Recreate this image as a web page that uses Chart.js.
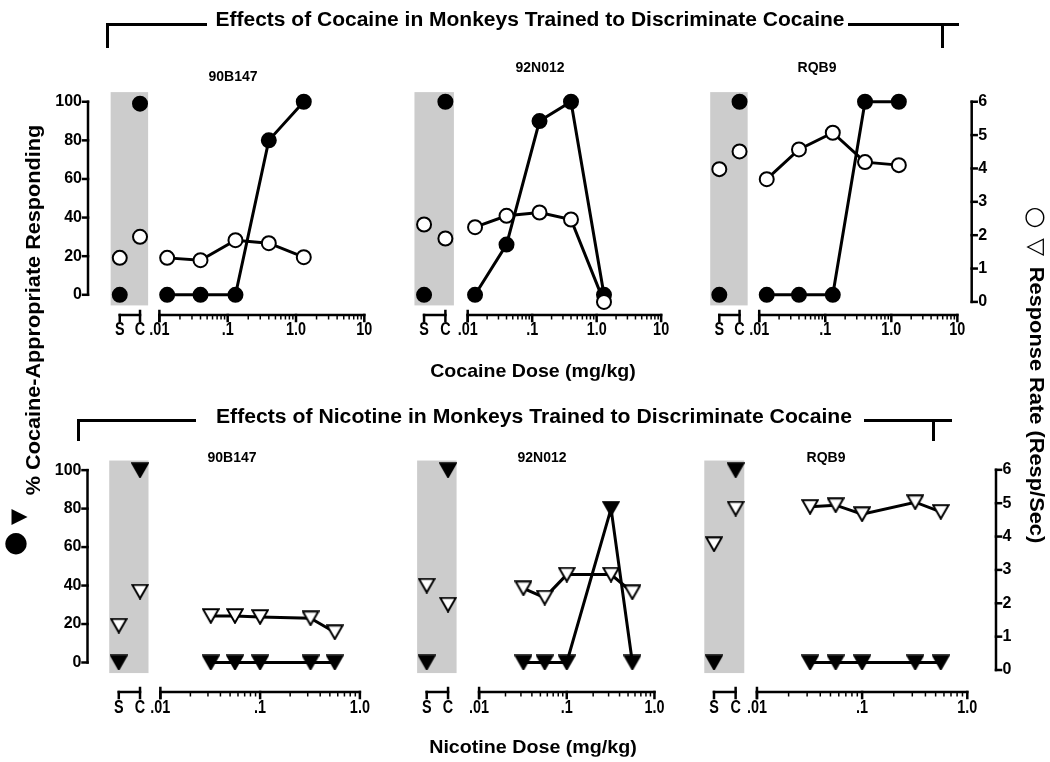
<!DOCTYPE html>
<html>
<head>
<meta charset="utf-8">
<script src="https://cdn.jsdelivr.net/npm/chart.js@4.4.1/dist/chart.umd.min.js"></script>
<style>
html,body{margin:0;padding:0;background:#fff;}
#wrap{position:relative;width:1050px;height:762px;overflow:hidden;font-family:"Liberation Sans",Arial,Helvetica,sans-serif;font-weight:bold;color:#000;}
#c{position:absolute;left:0;top:0;}
.t{position:absolute;white-space:nowrap;line-height:1;transform:translate(-50%,-50%);}
.rotL{transform:translate(-50%,-50%) rotate(-90deg);}
.rotR{transform:translate(-50%,-50%) rotate(90deg);}
.sym{font-family:"DejaVu Sans",sans-serif;font-weight:normal;}
.ln{position:absolute;background:#000;}
</style>
</head>
<body>
<div id="wrap">
<canvas id="c" width="1050" height="762"></canvas>

<div class="t" id="hTop" style="left:530px;top:19px;font-size:20px;">Effects of Cocaine in Monkeys Trained to Discriminate Cocaine</div>
<div class="t" id="hBot" style="left:534px;top:416px;font-size:20px;">Effects of Nicotine in Monkeys Trained to Discriminate Cocaine</div>
<div class="t" id="xTop" style="left:533px;top:370px;font-size:19px;">Cocaine Dose (mg/kg)</div>
<div class="t" id="xBot" style="left:533px;top:746px;font-size:19px;">Nicotine Dose (mg/kg)</div>

<div class="t rotL" id="yLeft" style="left:33px;top:310px;font-size:20px;">% Cocaine-Appropriate Responding</div>
<div class="t sym" style="left:16px;top:542px;font-size:28px;">●</div>
<div class="t sym rotL" style="left:18px;top:517px;font-size:21px;">▼</div>

<div class="t rotR" id="yRight" style="left:1037px;top:405px;font-size:20px;">Response Rate (Resp/Sec)</div>
<div class="t sym" style="left:1035px;top:215px;font-size:25px;">○</div>
<div class="t sym rotR" style="left:1036px;top:247px;font-size:23px;">▽</div>

<div class="ln" style="left:106px;top:23px;width:101px;height:3px;"></div>
<div class="ln" style="left:106px;top:23px;width:3px;height:25px;"></div>
<div class="ln" style="left:848px;top:23px;width:111px;height:3px;"></div>
<div class="ln" style="left:941px;top:23px;width:3px;height:25px;"></div>

<div class="ln" style="left:77px;top:419px;width:119px;height:3px;"></div>
<div class="ln" style="left:77px;top:419px;width:3px;height:22px;"></div>
<div class="ln" style="left:864px;top:419px;width:88px;height:3px;"></div>
<div class="ln" style="left:932px;top:419px;width:3px;height:22px;"></div>
</div>

<script>
// ================= DATA =================
const controlLabels = ['S', 'C'];
const subjects = ['90B147', '92N012', 'RQB9'];

const cocaineDoses = [0.013, 0.04, 0.13, 0.4, 1.3];
const nicotineDoses = [0.032, 0.056, 0.1, 0.32, 0.56];

// % cocaine-appropriate responding (filled symbols)
const cocainePct_90B147 = [0, 0, 0, 80, 100];
const cocainePct_92N012 = [0, 26, 90, 100, 0];
const cocainePct_RQB9   = [0, 0, 0, 100, 100];
const cocainePctCtrl_90B147 = [0, 99];
const cocainePctCtrl_92N012 = [0, 100];
const cocainePctCtrl_RQB9   = [0, 100];

// response rate, resp/sec (open symbols)
const cocaineRate_90B147 = [1.32, 1.25, 1.85, 1.76, 1.34];
const cocaineRate_92N012 = [2.24, 2.58, 2.68, 2.47, 0];
const cocaineRate_RQB9   = [3.68, 4.57, 5.07, 4.19, 4.10];
const cocaineRateCtrl_90B147 = [1.32, 1.95];
const cocaineRateCtrl_92N012 = [2.32, 1.90];
const cocaineRateCtrl_RQB9   = [3.98, 4.51];

const nicotinePct_90B147 = [0, 0, 0, 0, 0];
const nicotinePct_92N012 = [0, 0, 0, 80, 0];
const nicotinePct_RQB9   = [0, 0, 0, 0, 0];
const nicotinePctCtrl_90B147 = [0, 100];
const nicotinePctCtrl_92N012 = [0, 100];
const nicotinePctCtrl_RQB9   = [0, 100];

const nicotineRate_90B147 = [1.62, 1.62, 1.59, 1.55, 1.13];
const nicotineRate_92N012 = [2.45, 2.17, 2.86, 2.86, 2.33];
const nicotineRate_RQB9   = [4.89, 4.94, 4.67, 5.03, 4.74];
const nicotineRateCtrl_90B147 = [1.33, 2.35];
const nicotineRateCtrl_92N012 = [2.53, 1.96];
const nicotineRateCtrl_RQB9   = [3.77, 4.84];

// tick labels
const cocaineTickValues = [0.01, 0.1, 1, 10];
const cocaineTickLabels = ['.01', '.1', '1.0', '10'];
const nicotineTickValues = [0.01, 0.1, 1];
const nicotineTickLabels = ['.01', '.1', '1.0'];
const pctTickValues = [0, 20, 40, 60, 80, 100];
const rateTickValues = [0, 1, 2, 3, 4, 5, 6];

// ================= PANELS =================
const panels = [
  {subject: subjects[0], marker: 'circle', doses: cocaineDoses, pct: cocainePct_90B147, pctCtrl: cocainePctCtrl_90B147, rate: cocaineRate_90B147, rateCtrl: cocaineRateCtrl_90B147, ticks: cocaineTickValues, tickLabels: cocaineTickLabels},
  {subject: subjects[1], marker: 'circle', doses: cocaineDoses, pct: cocainePct_92N012, pctCtrl: cocainePctCtrl_92N012, rate: cocaineRate_92N012, rateCtrl: cocaineRateCtrl_92N012, ticks: cocaineTickValues, tickLabels: cocaineTickLabels},
  {subject: subjects[2], marker: 'circle', doses: cocaineDoses, pct: cocainePct_RQB9, pctCtrl: cocainePctCtrl_RQB9, rate: cocaineRate_RQB9, rateCtrl: cocaineRateCtrl_RQB9, ticks: cocaineTickValues, tickLabels: cocaineTickLabels},
  {subject: subjects[0], marker: 'triangle', doses: nicotineDoses, pct: nicotinePct_90B147, pctCtrl: nicotinePctCtrl_90B147, rate: nicotineRate_90B147, rateCtrl: nicotineRateCtrl_90B147, ticks: nicotineTickValues, tickLabels: nicotineTickLabels},
  {subject: subjects[1], marker: 'triangle', doses: nicotineDoses, pct: nicotinePct_92N012, pctCtrl: nicotinePctCtrl_92N012, rate: nicotineRate_92N012, rateCtrl: nicotineRateCtrl_92N012, ticks: nicotineTickValues, tickLabels: nicotineTickLabels},
  {subject: subjects[2], marker: 'triangle', doses: nicotineDoses, pct: nicotinePct_RQB9, pctCtrl: nicotinePctCtrl_RQB9, rate: nicotineRate_RQB9, rateCtrl: nicotineRateCtrl_RQB9, ticks: nicotineTickValues, tickLabels: nicotineTickLabels}
];

// ================= LAYOUT (pixels) =================
const W = 1050, H = 762;
// s,c: pixel of S and C; a: pixel of .01; d: pixels per decade
const layout = [
  {row: 0, s: 112.7, c: 133.3, a: 153.0, d: 69.5, axisY: 315, labelY: 330, titleX: 233, titleY: 77, leftAxisX: 88},
  {row: 0, s: 422.3, c: 444.0, a: 466.7, d: 65.6, axisY: 315, labelY: 330, titleX: 540, titleY: 68},
  {row: 0, s: 722.7, c: 743.3, a: 763.3, d: 67.2, axisY: 315, labelY: 330, titleX: 817, titleY: 68, rightAxisX: 971.7},
  {row: 1, s: 111.7, c: 133.3, a: 154.0, d: 101.5, axisY: 692, labelY: 708, titleX: 232, titleY: 458, leftAxisX: 87.5},
  {row: 1, s: 425.0, c: 446.7, a: 478.3, d: 89.2, axisY: 692, labelY: 708, titleX: 542, titleY: 458},
  {row: 1, s: 717.3, c: 739.3, a: 761.0, d: 107.0, axisY: 692, labelY: 708, titleX: 826, titleY: 458, rightAxisX: 996}
];
// y0: pixel of zero; k: pixels per unit
const rowLayout = [
  {y0L: 292.7, kL: 1.977, y0R: 300, kR: 34.17},
  {y0L: 669.3, kL: 1.970, y0R: 677, kR: 34.17}
];
const shadeX = [-0.45, 1.4];   // in S/C index units
const shadeY = [-5.5, 105];    // in % units

const FONT = '"Liberation Sans", Arial, Helvetica, sans-serif';

// ================= MARKERS =================
function triCanvas(fill) {
  const w = 18, h = 16;
  const cv = document.createElement('canvas');
  cv.width = w; cv.height = h;
  const g = cv.getContext('2d');
  g.beginPath();
  g.moveTo(1.2, 1.2); g.lineTo(w - 1.2, 1.2); g.lineTo(w / 2, h - 1.2); g.closePath();
  g.fillStyle = fill; g.fill();
  g.lineWidth = 2; g.strokeStyle = '#000'; g.lineJoin = 'miter'; g.stroke();
  return cv;
}
const triFilled = triCanvas('#000');
const triOpen = triCanvas('#fff');

// ================= SCALES =================
const scales = {};
panels.forEach((p, i) => {
  const L = layout[i];
  scales['x' + i] = {type: 'logarithmic', axis: 'x', position: 'bottom', display: false, bounds: 'data',
    min: Math.pow(10, -2 + (0 - L.a) / L.d), max: Math.pow(10, -2 + (W - L.a) / L.d)};
  scales['xc' + i] = {type: 'linear', axis: 'x', position: 'bottom', display: false, bounds: 'data',
    min: (0 - L.s) / (L.c - L.s), max: (W - L.s) / (L.c - L.s)};
});
rowLayout.forEach((r, k) => {
  scales['yL' + k] = {type: 'linear', axis: 'y', position: 'left', display: false, bounds: 'data',
    min: (r.y0L - H) / r.kL, max: r.y0L / r.kL};
  scales['yR' + k] = {type: 'linear', axis: 'y', position: 'right', display: false, bounds: 'data',
    min: (r.y0R - H) / r.kR, max: r.y0R / r.kR};
});

// ================= DATASETS =================
const datasets = [];
panels.forEach((p, i) => {
  const row = layout[i].row;
  const tri = p.marker === 'triangle';
  const common = {borderColor: '#000', borderWidth: 3, pointBorderColor: '#000', pointBorderWidth: 2,
    pointRadius: 7, pointHoverRadius: 7, clip: false, tension: 0};
  // open: response rate
  datasets.push(Object.assign({}, common, {
    label: p.subject + ' rate', order: 0, showLine: true,
    data: p.doses.map((d, j) => ({x: d, y: p.rate[j]})),
    xAxisID: 'x' + i, yAxisID: 'yR' + row,
    pointStyle: tri ? triOpen : 'circle', pointBackgroundColor: '#fff'}));
  datasets.push(Object.assign({}, common, {
    label: p.subject + ' rate S/C', order: 0, showLine: false,
    data: controlLabels.map((lab, j) => ({x: j, y: p.rateCtrl[j]})),
    xAxisID: 'xc' + i, yAxisID: 'yR' + row,
    pointStyle: tri ? triOpen : 'circle', pointBackgroundColor: '#fff'}));
  // filled: % drug-appropriate
  datasets.push(Object.assign({}, common, {
    label: p.subject + ' %', order: 1, showLine: true,
    data: p.doses.map((d, j) => ({x: d, y: p.pct[j]})),
    xAxisID: 'x' + i, yAxisID: 'yL' + row,
    pointStyle: tri ? triFilled : 'circle', pointBackgroundColor: '#000'}));
  datasets.push(Object.assign({}, common, {
    label: p.subject + ' % S/C', order: 1, showLine: false,
    data: controlLabels.map((lab, j) => ({x: j, y: p.pctCtrl[j]})),
    xAxisID: 'xc' + i, yAxisID: 'yL' + row,
    pointStyle: tri ? triFilled : 'circle', pointBackgroundColor: '#000'}));
});

// ================= AXES / DECOR PLUGIN =================
function seg(ctx, x1, y1, x2, y2) { ctx.beginPath(); ctx.moveTo(x1, y1); ctx.lineTo(x2, y2); ctx.stroke(); }
function narrowText(ctx, txt, x, y, sx) {
  ctx.save(); ctx.translate(x, y); ctx.scale(sx, 1); ctx.fillText(txt, 0, 0); ctx.restore();
}

const decor = {
  id: 'decor',
  beforeDatasetsDraw(chart) {
    const ctx = chart.ctx;
    ctx.save();
    panels.forEach((p, i) => {
      const L = layout[i];
      const xs = chart.scales['x' + i], xc = chart.scales['xc' + i];
      const yl = chart.scales['yL' + L.row], yr = chart.scales['yR' + L.row];

      // shaded control region
      const sx1 = xc.getPixelForValue(shadeX[0]), sx2 = xc.getPixelForValue(shadeX[1]);
      const sy1 = yl.getPixelForValue(shadeY[1]), sy2 = yl.getPixelForValue(shadeY[0]);
      ctx.fillStyle = '#cccccc';
      ctx.fillRect(sx1, sy1, sx2 - sx1, sy2 - sy1);

      ctx.strokeStyle = '#000'; ctx.fillStyle = '#000';
      const ay = L.axisY, tv = p.ticks;
      const xa = xs.getPixelForValue(tv[0]), xb = xs.getPixelForValue(tv[tv.length - 1]);
      // log dose axis
      ctx.lineWidth = 2.5; ctx.lineCap = 'square';
      seg(ctx, xa, ay, xb, ay);
      seg(ctx, xa, ay - 4, xa, ay + 6);
      tv.forEach(v => { const x = xs.getPixelForValue(v); seg(ctx, x, ay, x, ay + 6); });
      ctx.lineWidth = 1.5; ctx.lineCap = 'butt';
      for (let e = 0; e < tv.length - 1; e++) {
        for (let m = 2; m <= 9; m++) {
          const x = xs.getPixelForValue(tv[e] * m);
          seg(ctx, x, ay, x, ay + 4.5);
        }
      }
      // S / C bracket
      const xS = xc.getPixelForValue(0), xC = xc.getPixelForValue(1);
      ctx.lineWidth = 2.5; ctx.lineCap = 'square';
      seg(ctx, xS, ay, xC, ay);
      seg(ctx, xS, ay, xS, ay + 6);
      seg(ctx, xC, ay - 4, xC, ay + 6);

      // x labels (condensed bold)
      ctx.font = 'bold 18px ' + FONT;
      ctx.textAlign = 'center'; ctx.textBaseline = 'middle';
      tv.forEach((v, k) => narrowText(ctx, p.tickLabels[k], xs.getPixelForValue(v), L.labelY, 0.8));
      controlLabels.forEach((lab, k) => narrowText(ctx, lab, xc.getPixelForValue(k), L.labelY, 0.8));

      // subject title
      ctx.font = 'bold 14px ' + FONT;
      ctx.fillText(p.subject, L.titleX, L.titleY);

      // left % axis
      if (L.leftAxisX) {
        const x = L.leftAxisX;
        ctx.lineWidth = 2.5; ctx.lineCap = 'square';
        seg(ctx, x, yl.getPixelForValue(pctTickValues[0]), x, yl.getPixelForValue(pctTickValues[pctTickValues.length - 1]));
        ctx.font = 'bold 16px ' + FONT; ctx.textAlign = 'right';
        pctTickValues.forEach(v => {
          const y = yl.getPixelForValue(v);
          seg(ctx, x - 5, y, x, y);
          ctx.fillText(String(v), x - 6, y);
        });
      }
      // right rate axis
      if (L.rightAxisX) {
        const x = L.rightAxisX;
        ctx.lineWidth = 2.5; ctx.lineCap = 'square';
        seg(ctx, x, yr.getPixelForValue(rateTickValues[0]), x, yr.getPixelForValue(rateTickValues[rateTickValues.length - 1]));
        ctx.font = 'bold 16px ' + FONT; ctx.textAlign = 'left';
        rateTickValues.forEach(v => {
          const y = yr.getPixelForValue(v);
          seg(ctx, x, y, x + 5, y);
          ctx.fillText(String(v), x + 6.5, y);
        });
      }
    });
    ctx.restore();
  }
};

new Chart(document.getElementById('c'), {
  type: 'line',
  data: {datasets: datasets},
  options: {
    responsive: false, animation: false, devicePixelRatio: 1,
    layout: {padding: 0},
    events: [],
    plugins: {legend: {display: false}, tooltip: {enabled: false}, title: {display: false}},
    scales: scales
  },
  plugins: [decor]
});

// fit heading / axis-title text widths by horizontal scaling
function fit(id, target, rot) {
  const el = document.getElementById(id);
  const k = target / el.offsetWidth;
  el.style.transform = 'translate(-50%,-50%)' + (rot ? ' rotate(' + rot + 'deg)' : '') + ' scaleX(' + k.toFixed(3) + ')';
}
fit('hTop', 629); fit('hBot', 636); fit('xTop', 206); fit('xBot', 208);
fit('yLeft', 370, -90); fit('yRight', 276, 90);
</script>
</body>
</html>
